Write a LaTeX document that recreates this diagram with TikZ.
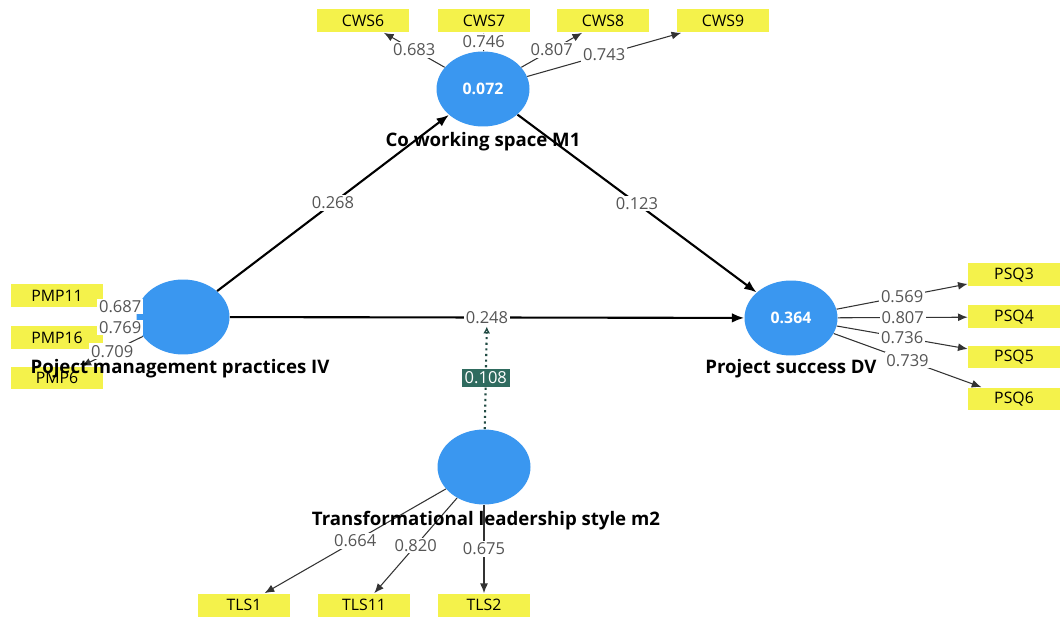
\documentclass[tikz,border=0pt]{standalone}
\usepackage{fontspec}
\setmainfont{Open Sans}
\usepackage{xcolor}
\usepackage{tikz}
\usetikzlibrary{shapes,arrows,arrows.meta,positioning,calc}
\definecolor{lvblue}{HTML}{3A97F0}
\definecolor{indyellow}{HTML}{F4F24B}
\definecolor{modgreen}{HTML}{2F6B5F}
\definecolor{loadgray}{HTML}{555555}

\begin{document}
\begin{tikzpicture}[x=0.02cm,y=-0.02cm,
    latent/.style={ellipse,fill=lvblue,minimum width=1.86cm,minimum height=1.5cm,inner sep=0pt,text=white,font=\bfseries\small},
    indbox/.style={rectangle,fill=indyellow,minimum width=1.84cm,minimum height=0.46cm,inner sep=0pt,font=\small},
    lvname/.style={font=\fontsize{10.6}{12}\selectfont\bfseries},
    loading/.style={fill=white,inner sep=1pt,text=loadgray,font=\fontsize{9.4}{11}\selectfont},
    loadarrow/.style={-{Latex[length=5.5pt,width=4.5pt]},draw=black!80,line width=0.6pt},
    patharrow/.style={-{Latex[length=7pt,width=5.5pt]},draw=black,line width=1.2pt},
    modarrow/.style={-{Latex[open,length=4pt,width=4pt]},draw=modgreen!70!black,line width=1.2pt,dotted},
    modbox/.style={fill=modgreen,text=white,inner sep=1.5pt,font=\fontsize{9.4}{11}\selectfont}]
    % fix the page size
    \useasboundingbox[fill=white] (0,0) rectangle (1060,617);
    % draw the latent variables
    \node[latent] (cws) at (483,89) {0.072};
    \node[latent] (pmp) at (183,317) {};
    \node[latent] (ps) at (791,318) {0.364};
    \node[latent] (tls) at (484,467) {};
    % draw the indicators
    \foreach \ind/\xx in {CWS6/363,CWS7/484,CWS8/603,CWS9/723}
        \node[indbox] (\ind) at (\xx,21) {\ind};
    \foreach \ind/\yy in {PMP11/296,PMP16/338,PMP6/378}
        \node[indbox] (\ind) at (57,\yy) {\ind};
    \foreach \ind/\yy in {PSQ3/275,PSQ4/317,PSQ5/357,PSQ6/399}
        \node[indbox] (\ind) at (1014,\yy) {\ind};
    \foreach \ind/\xx in {TLS1/244,TLS11/364,TLS2/484}
        \node[indbox] (\ind) at (\xx,605) {\ind};
    % draw the outer loadings
    \foreach \ind/\val in {CWS6/0.683,CWS7/0.746,CWS8/0.807,CWS9/0.743}
        \draw[loadarrow] (cws) -- node[loading] {\val} (\ind);
    \foreach \ind/\val in {PMP11/0.687,PMP16/0.769,PMP6/0.709}
        \draw[loadarrow] (pmp) -- node[loading] {\val} (\ind);
    \foreach \ind/\val in {PSQ3/0.569,PSQ4/0.807,PSQ5/0.736,PSQ6/0.739}
        \draw[loadarrow] (ps) -- node[loading] {\val} (\ind);
    \foreach \ind/\val in {TLS1/0.664,TLS11/0.820,TLS2/0.675}
        \draw[loadarrow] (tls) -- node[loading] {\val} (\ind);
    % draw the structural paths
    \draw[patharrow] (pmp) -- node[loading] {0.268} (cws);
    \draw[patharrow] (cws) -- node[loading] {0.123} (ps);
    \draw[patharrow] (pmp) -- node[loading] (eff) {0.248} (ps);
    % draw the moderating effect
    \draw[modarrow] (tls) -- node[modbox] {0.108} (eff);
    % draw the construct names
    \node[lvname] (cwsname) at (483,142) {Co working space M1};
    \node[lvname] (pmpname) at (180,369) {Poject management practices IV};
    \node[lvname] (psname) at (791,369) {Project success DV};
    \node[lvname] (tlsname) at (486,521) {Transformational leadership style m2};
\end{tikzpicture}
\end{document}
